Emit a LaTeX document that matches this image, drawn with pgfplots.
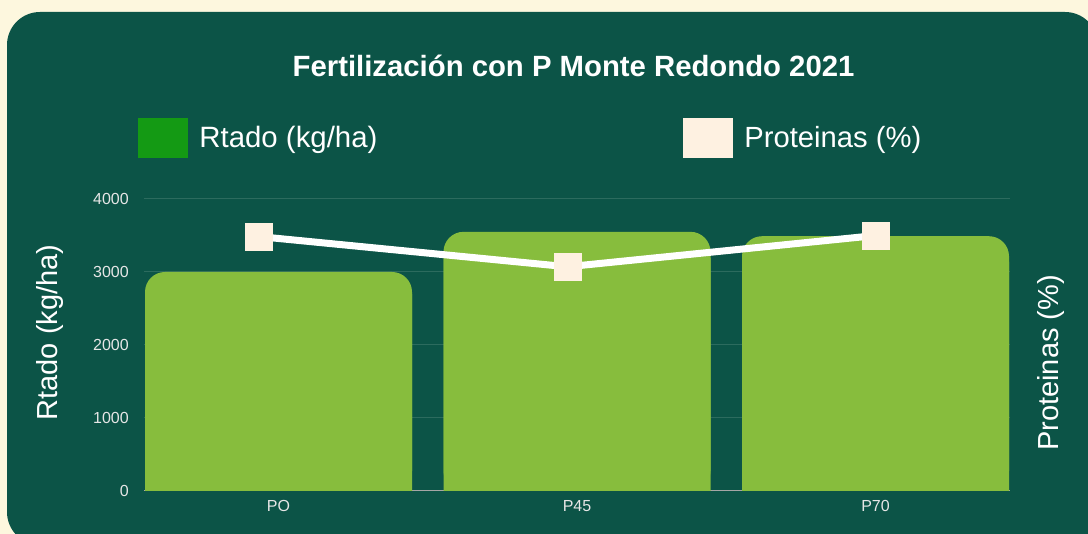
\documentclass[border=0pt]{standalone}
\usepackage{pgfplots}
\pgfplotsset{compat=1.18}
\usepackage{pgfplotstable}
\usepackage{fontspec}
\setmainfont{Liberation Sans}
\definecolor{bg}{HTML}{FDF7DE}
\definecolor{panel}{HTML}{0C5447}
\definecolor{barc}{HTML}{87BD3D}
\definecolor{leggreen}{HTML}{149A14}
\definecolor{cream}{HTML}{FEF1E1}
\definecolor{gridc}{HTML}{2C6B5E}
\definecolor{tickc}{HTML}{E6E6E6}

\pgfplotstableread{
x rtado
0 3000
1 3550
2 3490
}\rtado
\pgfplotstableread{
x prot
0 12.2
1 10.75
2 12.25
}\prot

\begin{document}
\begin{tikzpicture}[x=1pt,y=1pt]
\useasboundingbox (0,0) rectangle (1088,534);
\fill[bg] (0,0) rectangle (1088,534);
\fill[panel, rounded corners=33pt] (7,-11) rectangle (1098,522);
\begin{axis}[
  at={(144pt,43pt)}, anchor=south west,
  scale only axis, width=866pt, height=292pt,
  xmin=-0.4506, xmax=2.4506, ymin=0, ymax=4000,
  xtick={0,1,2}, xticklabels={PO,P45,P70},
  ytick={0,1000,2000,3000,4000},
  ymajorgrids, grid style={gridc, line width=1pt},
  axis x line*=bottom, axis y line*=left,
  x axis line style={draw=gray!70, line width=1pt, -},
  y axis line style={draw=none},
  major tick length=0pt, tick style={draw=none},
  ticklabel style={font=\fontsize{16}{19}\selectfont, text=tickc},
  /pgf/number format/assume math mode=true,
  /pgf/number format/1000 sep={},
  yticklabel style={inner sep=0pt, xshift=-15pt},
  xticklabel style={inner sep=0pt, yshift=-9pt},
  ylabel={Rtado (kg/ha)},
  ylabel style={at={(axis description cs:-0.1085,0.5428)}, anchor=center, font=\fontsize{29}{34}\selectfont, text=white},
  title={Fertilización con P Monte Redondo 2021},
  title style={at={(axis description cs:0.496,1.4212)}, anchor=base, yshift=-6pt, font=\bfseries\fontsize{29.3}{34}\selectfont, text=white},
  legend style={at={(axis description cs:-0.00693,1.2106)}, anchor=west, draw=none, fill=none, inner sep=0pt, outer sep=0pt, font=\fontsize{29.4}{34}\selectfont, text=white, nodes={inner sep=0pt}},
  legend cell align=left,
]
\addlegendimage{legend image code/.code={\fill[leggreen] (0pt,-19.5pt) rectangle (49pt,19.5pt); \path (61pt,0pt);}}
\addlegendentry{Rtado (kg/ha)}
\addplot[ybar, bar width=267pt, bar shift=0pt, fill=barc, draw=none, rounded corners=20pt, forget plot] table[x=x,y=rtado]{\rtado};
\addplot[ybar, bar width=267pt, bar shift=0pt, fill=barc, draw=none, forget plot] table[x=x,y expr=\thisrow{rtado}*0.9]{\rtado};
\end{axis}
\begin{axis}[
  at={(144pt,43pt)}, anchor=south west,
  scale only axis, width=866pt, height=292pt,
  xmin=-0.371, xmax=2.434, ymin=0, ymax=14,
  hide x axis, axis y line*=right, y axis line style={draw=none},
  ytick=\empty, major tick length=0pt,
  ylabel={Proteinas (\%)},
  ylabel style={at={(axis description cs:1.0479,0.4384)}, anchor=center, font=\fontsize{29}{34}\selectfont, text=white},
  legend style={at={(axis description cs:0.6224,1.2106)}, anchor=west, draw=none, fill=none, inner sep=0pt, outer sep=0pt, font=\fontsize{29.2}{34}\selectfont, text=white, nodes={inner sep=0pt}},
  legend cell align=left,
]
\addlegendimage{legend image code/.code={\fill[cream] (0pt,-19.5pt) rectangle (49pt,19.5pt); \path (61pt,0pt);}}
\addlegendentry{Proteinas (\%)}
\addplot[white, line width=7pt, mark=square*, mark size=13.5pt, mark options={solid, draw=cream, fill=cream, line width=0.1pt}, forget plot] table[x=x,y=prot]{\prot};
\end{axis}
\end{tikzpicture}
\end{document}
